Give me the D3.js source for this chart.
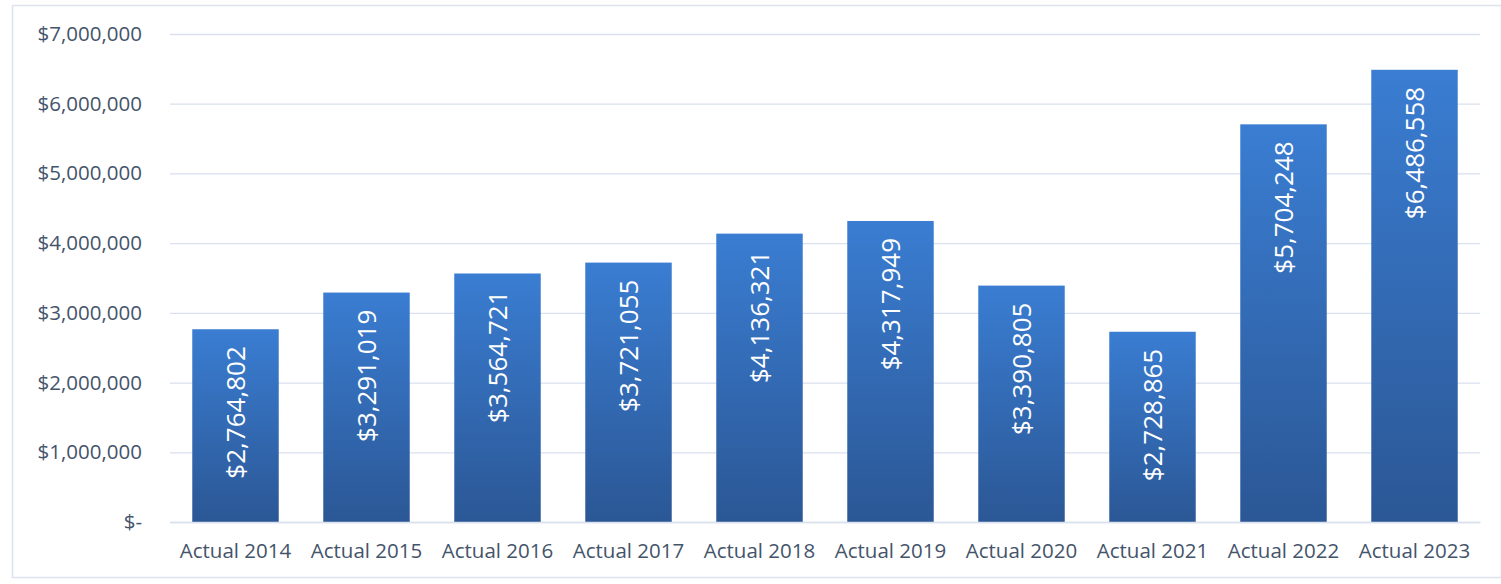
<!DOCTYPE html>
<html><head><meta charset="utf-8">
<script src="https://cdn.jsdelivr.net/npm/d3@7"></script>
<style>html,body{margin:0;padding:0;background:#fff;}svg{display:block;}</style>
</head><body>
<svg id="c" width="1501" height="584"></svg>
<script>
const categories = ["Actual 2014","Actual 2015","Actual 2016","Actual 2017","Actual 2018","Actual 2019","Actual 2020","Actual 2021","Actual 2022","Actual 2023"];
const values = [2764802,3291019,3564721,3721055,4136321,4317949,3390805,2728865,5704248,6486558];
const yTicks = [0,1000000,2000000,3000000,4000000,5000000,6000000,7000000];

const svg = d3.select("#c");
const W = 1501, H = 584;
const m = {left:170, right:21, top:34, bottom:62};

svg.append("rect").attr("x",12.5).attr("y",5.5).attr("width",W-12).attr("height",572)
  .attr("fill","#fff").attr("stroke","#dde3ec").attr("stroke-width",1.5);

const x = d3.scaleBand().domain(categories).range([m.left, W-m.right]).paddingInner(0.34).paddingOuter(0.17);
const y = d3.scaleLinear().domain([0,7000000]).range([H-m.bottom, m.top]);

const defs = svg.append("defs");
const g = defs.append("linearGradient").attr("id","bg").attr("x1",0).attr("y1",0).attr("x2",0).attr("y2",1);
g.append("stop").attr("offset","0%").attr("stop-color","#3a7dd2");
g.append("stop").attr("offset","100%").attr("stop-color","#2b5795");

const fmt = v => v===0 ? "$-" : "$" + d3.format(",")(v);

const yAxis = d3.axisLeft(y).tickValues(yTicks).tickSize(-(W-m.right-m.left)).tickFormat(fmt).tickPadding(28);
const ya = svg.append("g").attr("transform",`translate(${m.left},0)`).call(yAxis);
ya.select(".domain").remove();
ya.selectAll(".tick line").attr("stroke","#d9e1ee").attr("stroke-width",1.3);
ya.selectAll(".tick text").attr("fill","#44546a").attr("font-family","'Open Sans', sans-serif").attr("font-size",20.5);

svg.append("g").selectAll("rect").data(values).join("rect")
  .attr("x",(d,i)=>x(categories[i]))
  .attr("y",d=>y(d))
  .attr("width",x.bandwidth())
  .attr("height",d=>y(0)-y(d))
  .attr("fill","url(#bg)");

svg.append("g").selectAll("text").data(values).join("text")
  .attr("transform",(d,i)=>`translate(${x(categories[i])+x.bandwidth()/2+9.5},${y(d)+17}) rotate(-90)`)
  .attr("text-anchor","end")
  .attr("fill","#ffffff")
  .attr("font-family","'Open Sans', sans-serif")
  .attr("font-size",26)
  .text(d=>fmt(d));

const xAxis = d3.axisBottom(x).tickSize(0).tickPadding(21);
const xa = svg.append("g").attr("transform",`translate(0,${y(0)})`).call(xAxis);
xa.select(".domain").attr("stroke","#d9e1ee").attr("stroke-width",1.3);
xa.selectAll(".tick text").attr("fill","#44546a").attr("font-family","'Open Sans', sans-serif").attr("font-size",20.5);
</script>
</body></html>
